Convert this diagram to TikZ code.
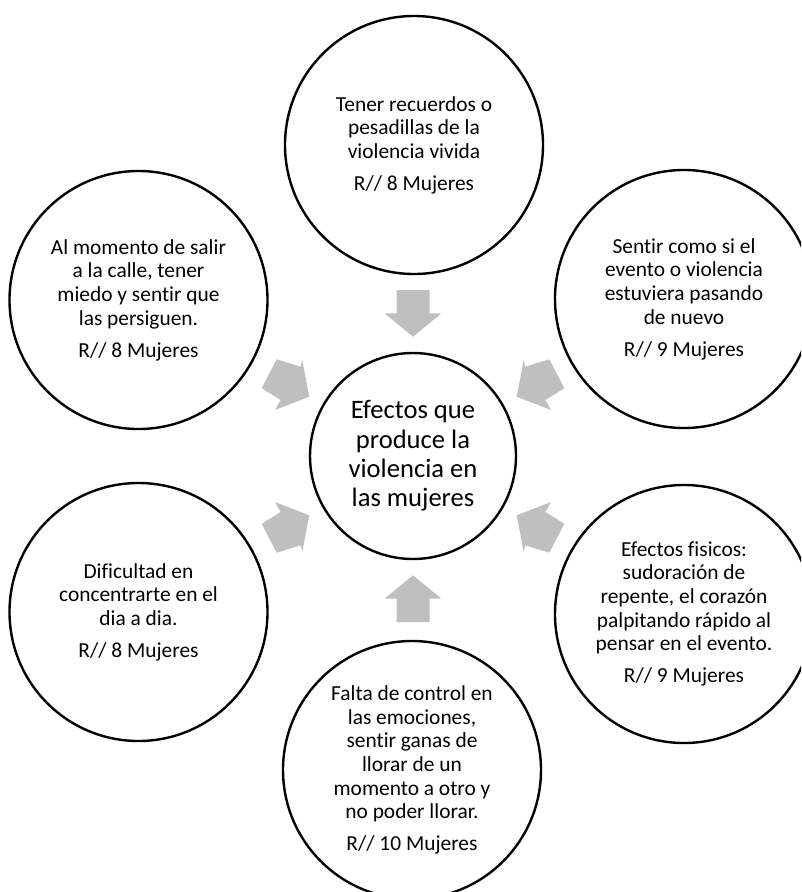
\documentclass[tikz,border=0pt]{standalone}
\usepackage{fontspec}
\setmainfont{Carlito}[Ligatures={NoCommon,NoContextual}]
\definecolor{arrowgray}{HTML}{BFBFBF}
\begin{document}
\begin{tikzpicture}[x=1pt,y=-1pt,
  outer/.style={circle, draw=black, line width=2.4pt, minimum size=258pt, inner sep=0pt, align=center, font=\fontsize{21.4}{23.6}\selectfont},
  hub/.style={circle, draw=black, line width=2.4pt, minimum size=206pt, inner sep=0pt, align=center, font=\fontsize{26.6}{29.4}\selectfont},
  blockarrow/.style={fill=arrowgray, draw=none}]
\useasboundingbox (0,0) rectangle (801,892);
\clip (0,0) rectangle (801,892);
\fill[white] (0,0) rectangle (801,892);
% centre
\node[hub] (c) at (413,456) {Efectos que\\produce la\\violencia en\\las mujeres};
% outer circles
\node[outer] (t) at (414,145) {Tener recuerdos o\\pesadillas de la\\violencia vivida\\[8.4pt]R// 8 Mujeres};
\node[outer] (ul) at (138.5,300) {Al momento de salir\\a la calle, tener\\miedo y sentir que\\las persiguen.\\[8.4pt]R// 8 Mujeres};
\node[outer] (ur) at (684,299) {Sentir como si el\\evento o violencia\\estuviera pasando\\de nuevo\\[8.4pt]R// 9 Mujeres};
\node[outer] (lr) at (684,614) {Efectos fisicos:\\sudoración de\\repente, el corazón\\palpitando rápido al\\pensar en el evento.\\[8.4pt]R// 9 Mujeres};
\node[outer] (b) at (412,770) {Falta de control en\\las emociones,\\sentir ganas de\\llorar de un\\momento a otro y\\no poder llorar.\\[8.4pt]R// 10 Mujeres};
\node[outer] (ll) at (138.5,612) {Dificultad en\\concentrarte en el\\dia a dia.\\[8.4pt]R// 8 Mujeres};
% vertical arrows
\foreach \sy in {1,-1}{
  \begin{scope}[shift={(c.center)}, yscale=\sy]
    \fill[blockarrow] (-16.5,-166) -- (16.5,-166) -- (16.5,-142.7) -- (28.5,-142.7)
      -- (0,-119.3) -- (-28.5,-142.7) -- (-16.5,-142.7) -- cycle;
  \end{scope}
}
% diagonal arrows
\foreach \sx/\sy in {1/1,-1/1,1/-1,-1/-1}{
  \begin{scope}[shift={(c.center)}, xscale=\sx, yscale=\sy]
    \fill[blockarrow] (-136.3,-96.7) -- (-112.3,-89.3) -- (-110.7,-96) -- (-103.7,-59.3)
      -- (-138,-46) -- (-132.3,-56) -- (-151.3,-67.7) -- cycle;
  \end{scope}
}
\end{tikzpicture}
\end{document}
